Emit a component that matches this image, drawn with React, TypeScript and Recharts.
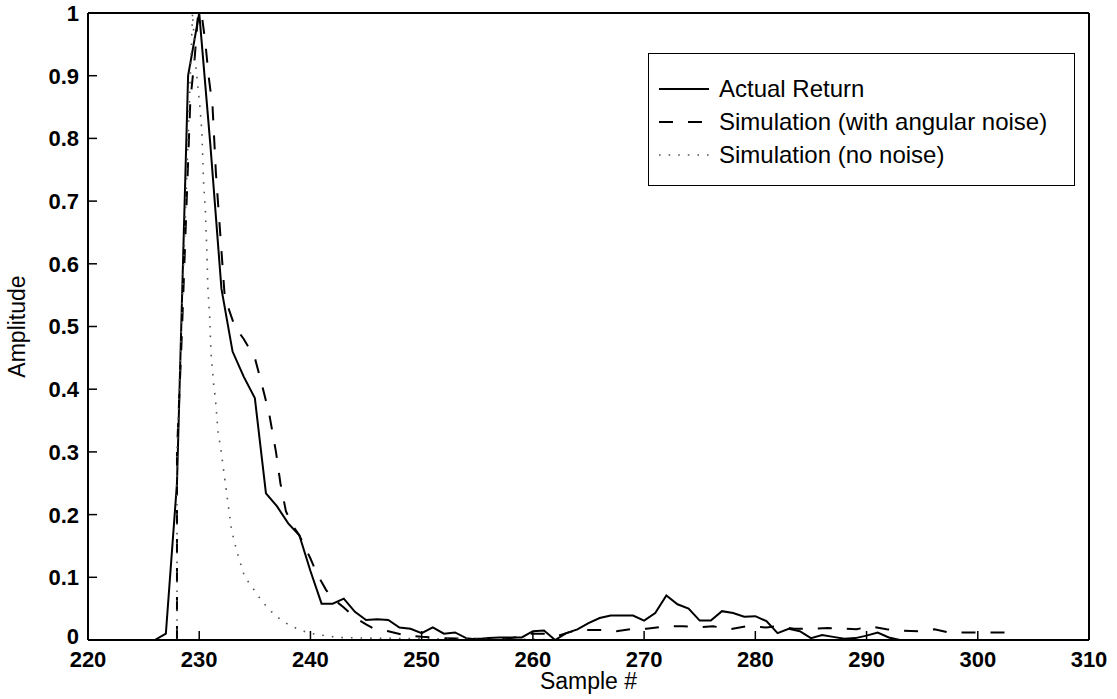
import React from 'react';
import { LineChart, Line, XAxis, YAxis, Legend } from 'recharts';

// sample numbers on the x axis
const sampleTicks = [220, 230, 240, 250, 260, 270, 280, 290, 300, 310];
const amplitudeTicks = [0, 0.1, 0.2, 0.3, 0.4, 0.5, 0.6, 0.7, 0.8, 0.9, 1];

// measured return, one value per sample starting at 220
const actualStart = 220;
const actualValues = [
  0, 0, 0, 0, 0, 0, 0, 0.01, 0.25, 0.9,
  1.0, 0.79, 0.56, 0.46, 0.42, 0.386, 0.234, 0.213, 0.186, 0.167,
  0.11, 0.058, 0.058, 0.066, 0.045, 0.032, 0.033, 0.032, 0.02, 0.018,
  0.011, 0.02, 0.01, 0.012, 0.003, 0.001, 0.003, 0.004, 0.004, 0.004,
  0.014, 0.015, 0, 0.011, 0.017, 0.027, 0.035, 0.039, 0.039, 0.039,
  0.031, 0.043, 0.071, 0.057, 0.05, 0.031, 0.031, 0.046, 0.043, 0.037,
  0.038, 0.03, 0.011, 0.018, 0.014, 0.003, 0.008, 0.005, 0.002, 0.003,
  0.007, 0.012, 0.004, 0, 0, 0, 0, 0, 0, 0,
  0, 0, 0, 0, 0, 0, 0,
];

// simulation with angular noise (finer sampling)
const noiseX = [
  228, 228, 228.4, 229.2, 229.6, 229.9, 230.2, 230.54, 230.84, 231.2,
  231.5, 231.7, 232.3, 233.2, 234, 235, 235.6, 236.3, 236.9, 237.3,
  237.8, 238.5, 239, 240, 240.6, 241.4, 242, 243, 244, 245,
  245.6, 247, 248.6, 250, 252, 254, 256, 258, 259, 259.5,
  261, 262, 263, 264, 265, 266.3, 267.5, 269, 270.2, 272,
  273.5, 274.9, 276.2, 277.7, 279.2, 281, 282, 283.5, 285, 286.5,
  288, 289.1, 290.3, 291.8, 293.2, 294.8, 296.1, 297.6, 298.8, 300.5,
  302, 303,
];
const noiseY = [
  0, 0.3, 0.47, 0.86, 0.93, 1.0, 1.0, 0.955, 0.9, 0.85,
  0.745, 0.695, 0.546, 0.5, 0.48, 0.45, 0.41, 0.36, 0.3, 0.25,
  0.205, 0.18, 0.167, 0.13, 0.105, 0.08, 0.066, 0.052, 0.036, 0.025,
  0.019, 0.014, 0.007, 0.005, 0.003, 0.002, 0.002, 0.003, 0.006, 0.01,
  0.01, 0.005, 0.011, 0.016, 0.016, 0.016, 0.014, 0.018, 0.018, 0.022,
  0.022, 0.02, 0.022, 0.017, 0.022, 0.02, 0.022, 0.018, 0.018, 0.019,
  0.018, 0.017, 0.022, 0.017, 0.015, 0.014, 0.017, 0.011, 0.012, 0.012,
  0.012, 0.012,
];

// simulation without noise
const cleanX = [
  228, 228, 228.5, 229, 229.4, 229.64, 230.09, 230.24, 230.39, 230.54,
  230.69, 230.78, 230.93, 231.05, 231.3, 231.45, 231.7, 231.9, 232.2, 232.5,
  232.9, 233.4, 234.1, 234.7, 235.3, 236.1, 236.8, 237.5, 238.4, 239,
  239.7, 240.5, 241.6, 242.6, 245, 250, 255, 260, 263,
];
const cleanY = [
  0, 0.3, 0.55, 0.8, 1.0, 0.925, 0.845, 0.81, 0.73, 0.69,
  0.618, 0.56, 0.52, 0.46, 0.407, 0.386, 0.33, 0.31, 0.27, 0.23,
  0.176, 0.14, 0.1, 0.086, 0.07, 0.052, 0.04, 0.03, 0.021, 0.017,
  0.012, 0.009, 0.006, 0.004, 0.003, 0.002, 0.001, 0.001, 0,
];

const actualData = actualValues.map((y, i) => ({ x: actualStart + i, y }));
const noiseData = noiseX.map((x, i) => ({ x, y: noiseY[i] }));
const cleanData = cleanX.map((x, i) => ({ x, y: cleanY[i] }));

const FONT = '"Liberation Sans", Arial, Helvetica, sans-serif';

const seriesNames = ['Actual Return', 'Simulation (with angular noise)', 'Simulation (no noise)'];
const seriesStyle: Record<string, { color: string; dash?: string; width: number }> = {
  'Actual Return': { color: '#000', width: 2 },
  'Simulation (with angular noise)': { color: '#000', dash: '14 15', width: 2 },
  'Simulation (no noise)': { color: '#555', dash: '1.6 8', width: 1.6 },
};

const fmtAmp = (v: number) => (v === 0 ? '0' : v === 1 ? '1' : v.toFixed(1));

const renderLegend = (props: any) => {
  const { payload = [] } = props;
  const ordered = seriesNames
    .map((n) => payload.find((p: any) => p.value === n))
    .filter(Boolean);
  return (
    <div
      style={{
        width: 427,
        height: 133,
        boxSizing: 'border-box',
        border: '1.5px solid #000',
        background: '#fff',
        paddingTop: 18,
        fontFamily: FONT,
        fontSize: 24,
        color: '#000',
      }}
    >
      {ordered.map((entry: any) => {
        const s = seriesStyle[entry.value];
        return (
          <div key={entry.value} style={{ display: 'flex', alignItems: 'center', height: 33 }}>
            <svg width={70} height={12} style={{ flexShrink: 0 }}>
              <line
                x1={10}
                x2={60}
                y1={6}
                y2={6}
                stroke={s.color}
                strokeWidth={s.width}
                strokeDasharray={s.dash}
              />
            </svg>
            <span>{entry.value}</span>
          </div>
        );
      })}
    </div>
  );
};

const AmplitudeLabel = (props: any) => {
  const { viewBox } = props;
  const cx = viewBox.x + 17;
  const cy = viewBox.y + viewBox.height / 2;
  return (
    <text
      x={cx}
      y={cy}
      transform={`rotate(-90 ${cx} ${cy})`}
      textAnchor="middle"
      dominantBaseline="central"
      fill="#000"
      fontFamily={FONT}
      fontSize={23}
    >
      Amplitude
    </text>
  );
};

// y tick text; the "0" sits a little higher so it clears the "220" below it
const AmpTick = (props: any) => {
  const { x, y, payload } = props;
  const lift = payload.value === 0 ? -4 : 0;
  return (
    <text
      x={x}
      y={y + lift}
      dy="0.36em"
      textAnchor="end"
      fill="#000"
      fontFamily={FONT}
      fontSize={22}
      fontWeight="bold"
    >
      {fmtAmp(payload.value)}
    </text>
  );
};

const axisLine = { stroke: '#000', strokeWidth: 2 };
const tickLine = { stroke: '#000', strokeWidth: 1.5 };
const tickText = { fill: '#000', fontSize: 22, fontWeight: 'bold' as const, fontFamily: FONT };

export default function App() {
  return (
    <div style={{ position: 'absolute', left: 0, top: 0, width: 1117, height: 699, background: '#fff' }}>
      <LineChart width={1117} height={699} margin={{ top: 0, right: 0, bottom: 0, left: 0 }}>
        <XAxis
          xAxisId="bottom"
          dataKey="x"
          type="number"
          domain={[220, 310]}
          ticks={sampleTicks}
          interval={0}
          allowDataOverflow
          height={59}
          tickSize={-9}
          tickMargin={20}
          axisLine={axisLine}
          tickLine={tickLine}
          tick={tickText}
          label={{ value: 'Sample #', position: 'insideBottom', offset: 10, fill: '#000', fontSize: 23, fontFamily: FONT }}
        />
        <XAxis
          xAxisId="top"
          orientation="top"
          dataKey="x"
          type="number"
          domain={[220, 310]}
          ticks={sampleTicks}
          interval={0}
          allowDataOverflow
          height={13}
          tickSize={-9}
          axisLine={axisLine}
          tickLine={tickLine}
          tick={false}
        />
        <YAxis
          yAxisId="left"
          type="number"
          domain={[0, 1]}
          ticks={amplitudeTicks}
          interval={0}
          allowDataOverflow
          width={88}
          tickSize={-9}
          tickMargin={18}
          axisLine={axisLine}
          tickLine={tickLine}
          tick={<AmpTick />}
          label={<AmplitudeLabel />}
        />
        <YAxis
          yAxisId="right"
          orientation="right"
          type="number"
          domain={[0, 1]}
          ticks={amplitudeTicks}
          interval={0}
          allowDataOverflow
          width={28}
          tickSize={-9}
          axisLine={axisLine}
          tickLine={tickLine}
          tick={false}
        />
        <Legend
          layout="horizontal"
          verticalAlign="middle"
          align="center"
          content={renderLegend}
          wrapperStyle={{ left: 648, top: 53, width: 427, height: 133 }}
        />
        <Line
          xAxisId="bottom"
          yAxisId="left"
          data={actualData}
          dataKey="y"
          name="Actual Return"
          type="linear"
          stroke={seriesStyle['Actual Return'].color}
          strokeWidth={seriesStyle['Actual Return'].width}
          dot={false}
          activeDot={false}
          isAnimationActive={false}
        />
        <Line
          xAxisId="bottom"
          yAxisId="left"
          data={noiseData}
          dataKey="y"
          name="Simulation (with angular noise)"
          type="linear"
          stroke={seriesStyle['Simulation (with angular noise)'].color}
          strokeWidth={seriesStyle['Simulation (with angular noise)'].width}
          strokeDasharray={seriesStyle['Simulation (with angular noise)'].dash}
          dot={false}
          activeDot={false}
          isAnimationActive={false}
        />
        <Line
          xAxisId="bottom"
          yAxisId="left"
          data={cleanData}
          dataKey="y"
          name="Simulation (no noise)"
          type="linear"
          stroke={seriesStyle['Simulation (no noise)'].color}
          strokeWidth={seriesStyle['Simulation (no noise)'].width}
          strokeDasharray={seriesStyle['Simulation (no noise)'].dash}
          dot={false}
          activeDot={false}
          isAnimationActive={false}
        />
      </LineChart>
    </div>
  );
}
